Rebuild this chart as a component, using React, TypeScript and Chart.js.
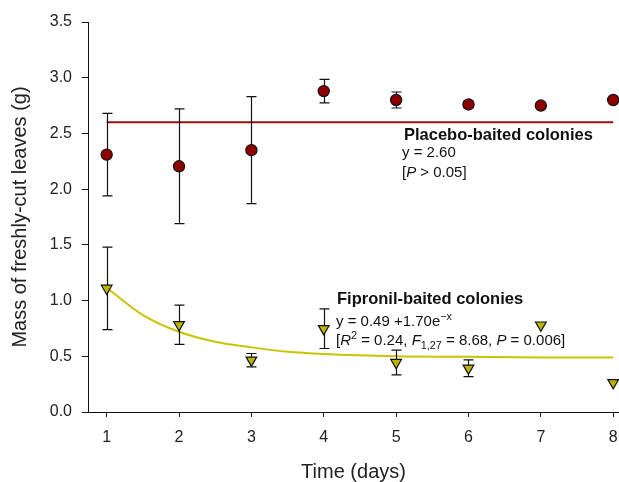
import React, { useEffect, useRef } from 'react';
import { Chart, registerables } from 'chart.js';

Chart.register(...registerables);

// ---- data ----
const days = [1, 2, 3, 4, 5, 6, 7, 8];
const placeboMean = [2.31, 2.205, 2.35, 2.88, 2.8, 2.76, 2.75, 2.8];
const placeboErr = [0.37, 0.515, 0.48, 0.105, 0.072, 0.03, 0, 0];
const fipronilMean = [1.11, 0.783, 0.465, 0.748, 0.444, 0.393, 0.78, 0.263];
const fipronilErr = [0.37, 0.177, 0.06, 0.178, 0.111, 0.075, 0, 0];
const placeboFitX = [1, 8];
const placeboFitY = [2.6, 2.6];
const fipronilFitX = [1, 1.5, 2, 2.5, 3, 3.5, 4, 5, 6, 7, 8];
const fipronilFitY = [1.115, 0.87, 0.72, 0.63, 0.58, 0.54, 0.52, 0.5, 0.495, 0.49, 0.49];
const xTickValues = [1, 2, 3, 4, 5, 6, 7, 8];
const yTickValues = [0, 0.5, 1, 1.5, 2, 2.5, 3, 3.5];

const FONT = '"Liberation Sans", Arial, Helvetica, sans-serif';

type Run = { t: string; b?: boolean; i?: boolean; sup?: boolean; sub?: boolean };

function drawRuns(ctx: CanvasRenderingContext2D, runs: Run[], x: number, y: number, size: number) {
  let cx = x;
  for (const r of runs) {
    const s = r.sup || r.sub ? size * 0.72 : size;
    ctx.font = `${r.i ? 'italic ' : ''}${r.b ? 'bold ' : ''}${s}px ${FONT}`;
    const dy = r.sup ? -size * 0.36 : r.sub ? size * 0.32 : 0;
    ctx.fillText(r.t, cx, y + dy);
    cx += ctx.measureText(r.t).width;
  }
}

const errorBars = {
  id: 'errorBars',
  beforeDatasetDraw(chart: any, args: any) {
    let means: number[] | null = null;
    let errs: number[] | null = null;
    if (args.index === 0) { means = placeboMean; errs = placeboErr; }
    if (args.index === 1) { means = fipronilMean; errs = fipronilErr; }
    if (!means || !errs) return;
    const { ctx, scales } = chart;
    const xs = scales.x, ys = scales.y;
    ctx.save();
    ctx.strokeStyle = '#111';
    ctx.lineWidth = 1.2;
    for (let i = 0; i < days.length; i++) {
      if (errs[i] <= 0) continue;
      const px = Math.round(xs.getPixelForValue(days[i])) + 0.5;
      const top = ys.getPixelForValue(means[i] + errs[i]);
      const bot = ys.getPixelForValue(means[i] - errs[i]);
      ctx.beginPath();
      ctx.moveTo(px, top);
      ctx.lineTo(px, bot);
      ctx.moveTo(px - 5, top);
      ctx.lineTo(px + 5, top);
      ctx.moveTo(px - 5, bot);
      ctx.lineTo(px + 5, bot);
      ctx.stroke();
    }
    ctx.restore();
  },
};

const annotations = {
  id: 'annotations',
  afterDraw(chart: any) {
    const { ctx } = chart;
    ctx.save();
    ctx.fillStyle = '#111';
    ctx.textBaseline = 'middle';
    ctx.textAlign = 'left';
    drawRuns(ctx, [{ t: 'Placebo-baited colonies', b: true }], 404, 135, 16.5);
    drawRuns(ctx, [{ t: 'y = 2.60' }], 402, 153, 15);
    drawRuns(ctx, [{ t: '[' }, { t: 'P', i: true }, { t: ' > 0.05]' }], 402, 172.5, 15);
    drawRuns(ctx, [{ t: 'Fipronil-baited colonies', b: true }], 337, 299, 16.5);
    drawRuns(ctx, [{ t: 'y = 0.49 +1.70e' }, { t: '\u2212x', sup: true }], 336, 322, 15);
    drawRuns(
      ctx,
      [
        { t: '[' },
        { t: 'R', i: true },
        { t: '2', sup: true },
        { t: ' = 0.24, ' },
        { t: 'F', i: true },
        { t: '1,27', sub: true },
        { t: ' = 8.68, ' },
        { t: 'P', i: true },
        { t: ' = 0.006]' },
      ],
      336,
      341,
      15
    );
    ctx.restore();
  },
};

export default function App() {
  const ref = useRef<HTMLCanvasElement | null>(null);

  useEffect(() => {
    if (!ref.current) return;
    const chart = new Chart(ref.current, {
      type: 'scatter',
      data: {
        datasets: [
          {
            label: 'Placebo',
            data: days.map((d, i) => ({ x: d, y: placeboMean[i] })),
            pointStyle: 'circle',
            pointRadius: 5.6,
            backgroundColor: '#8e0000',
            borderColor: '#111',
            borderWidth: 1.2,
            clip: false,
          },
          {
            label: 'Fipronil',
            data: days.map((d, i) => ({ x: d, y: fipronilMean[i] })),
            pointStyle: 'triangle',
            pointRotation: 180,
            pointRadius: 6.2,
            backgroundColor: '#bcb400',
            borderColor: '#111',
            borderWidth: 1.2,
            clip: false,
          },
          {
            label: 'Placebo fit',
            data: placeboFitX.map((x, i) => ({ x, y: placeboFitY[i] })),
            showLine: true,
            pointRadius: 0,
            borderColor: '#951212',
            borderWidth: 2,
          },
          {
            label: 'Fipronil fit',
            data: fipronilFitX.map((x, i) => ({ x, y: fipronilFitY[i] })),
            showLine: true,
            cubicInterpolationMode: 'monotone',
            pointRadius: 0,
            borderColor: '#c9c300',
            borderWidth: 2,
          },
        ] as any,
      },
      options: {
        animation: false,
        responsive: false,
        layout: { autoPadding: false, padding: { top: 22, right: 0, left: 0, bottom: 0 } },
        plugins: { legend: { display: false }, tooltip: { enabled: false } },
        scales: {
          x: {
            type: 'linear',
            min: 0.742,
            max: 8.08,
            afterBuildTicks: (s: any) => {
              s.ticks = xTickValues.map((v) => ({ value: v }));
            },
            afterFit: (s: any) => {
              s.height = 70;
              s.paddingLeft = 0;
              s.paddingRight = 0;
            },
            grid: { display: true, drawOnChartArea: false, drawTicks: true, tickLength: 5, color: '#111', lineWidth: 1 },
            border: { display: true, color: '#111', width: 1 },
            ticks: {
              color: '#222',
              padding: 11,
              maxRotation: 0,
              font: { family: FONT, size: 16 },
              callback: (v: any) => String(v),
            },
            title: {
              display: true,
              text: 'Time (days)',
              color: '#222',
              font: { family: FONT, size: 20, lineHeight: 1 },
              padding: { top: 0, bottom: 0 },
            },
          },
          y: {
            type: 'linear',
            min: 0,
            max: 3.5,
            afterBuildTicks: (s: any) => {
              s.ticks = yTickValues.map((v) => ({ value: v }));
            },
            afterFit: (s: any) => {
              s.width = 88;
              s.paddingTop = 0;
              s.paddingBottom = 0;
            },
            grid: { display: true, drawOnChartArea: false, drawTicks: true, tickLength: 6, color: '#111', lineWidth: 1 },
            border: { display: true, color: '#111', width: 1 },
            ticks: {
              color: '#222',
              padding: 10,
              font: { family: FONT, size: 16 },
              callback: (v: any) => Number(v).toFixed(1),
            },
            title: {
              display: true,
              text: 'Mass of freshly-cut leaves (g)',
              color: '#222',
              font: { family: FONT, size: 20, lineHeight: 1 },
              padding: { top: 10, bottom: 0 },
            },
          },
        },
      },
      plugins: [errorBars, annotations],
    });
    return () => chart.destroy();
  }, []);

  return (
    <div style={{ position: 'absolute', left: 0, top: 0, width: 619, height: 482, background: '#fff' }}>
      <canvas ref={ref} width={619} height={482} style={{ width: 619, height: 482, display: 'block' }} />
    </div>
  );
}
